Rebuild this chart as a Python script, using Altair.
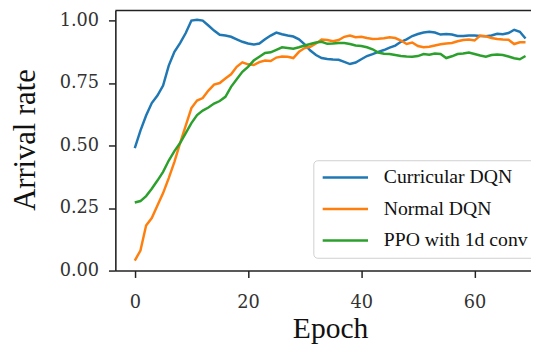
import altair as alt
import pandas as pd

epochs = list(range(70))

curricular_dqn = [
    0.49, 0.56, 0.62, 0.67, 0.70, 0.74, 0.82, 0.875, 0.91, 0.95,
    1.00, 1.003, 1.00, 0.98, 0.96, 0.943, 0.94, 0.935, 0.925, 0.915,
    0.908, 0.904, 0.908, 0.925, 0.94, 0.952, 0.945, 0.94, 0.936, 0.925,
    0.905, 0.88, 0.862, 0.85, 0.846, 0.844, 0.843, 0.835, 0.826, 0.832,
    0.845, 0.858, 0.866, 0.875, 0.882, 0.892, 0.90, 0.915, 0.925, 0.938,
    0.946, 0.952, 0.955, 0.952, 0.944, 0.946, 0.944, 0.938, 0.938, 0.94,
    0.94, 0.938, 0.937, 0.94, 0.947, 0.945, 0.95, 0.963, 0.955, 0.928,
]

normal_dqn = [
    0.04, 0.08, 0.18, 0.21, 0.26, 0.31, 0.37, 0.435, 0.51, 0.58,
    0.65, 0.68, 0.69, 0.72, 0.744, 0.75, 0.768, 0.785, 0.815, 0.833,
    0.825, 0.822, 0.834, 0.84, 0.838, 0.852, 0.856, 0.855, 0.85, 0.875,
    0.89, 0.895, 0.908, 0.924, 0.922, 0.917, 0.922, 0.935, 0.94, 0.933,
    0.935, 0.93, 0.926, 0.927, 0.929, 0.933, 0.93, 0.92, 0.906, 0.912,
    0.898, 0.893, 0.895, 0.90, 0.905, 0.908, 0.91, 0.917, 0.922, 0.924,
    0.92, 0.94, 0.937, 0.93, 0.926, 0.924, 0.923, 0.906, 0.913, 0.913,
]

ppo_1d_conv = [
    0.272, 0.278, 0.298, 0.327, 0.36, 0.395, 0.44, 0.478, 0.51, 0.55,
    0.59, 0.622, 0.64, 0.652, 0.668, 0.678, 0.695, 0.735, 0.765, 0.795,
    0.815, 0.84, 0.855, 0.87, 0.873, 0.883, 0.893, 0.89, 0.887, 0.893,
    0.90, 0.906, 0.912, 0.915, 0.907, 0.908, 0.91, 0.91, 0.906, 0.90,
    0.898, 0.893, 0.885, 0.872, 0.867, 0.866, 0.862, 0.858, 0.856, 0.855,
    0.858, 0.866, 0.863, 0.868, 0.866, 0.85, 0.857, 0.866, 0.868, 0.872,
    0.866, 0.86, 0.855, 0.862, 0.864, 0.862, 0.856, 0.849, 0.845, 0.858,
]

series_names = ["Curricular DQN", "Normal DQN", "PPO with 1d conv"]
series_colors = ["#1f77b4", "#ff7f0e", "#2ca02c"]
x_ticks = [0, 20, 40, 60]
y_ticks = [0.0, 0.25, 0.5, 0.75, 1.0]

rows = []
for name, vals in zip(series_names, [curricular_dqn, normal_dqn, ppo_1d_conv]):
    for e, v in zip(epochs, vals):
        rows.append({"Epoch": e, "rate": v, "series": name})
df = pd.DataFrame(rows)

W, H = 422, 264
TICK_FONT = "DejaVu Serif"
TEXT_FONT = "Liberation Serif"

lines = alt.Chart(df).mark_line(strokeWidth=2.5).encode(
    x=alt.X(
        "Epoch:Q",
        scale=alt.Scale(domain=[-3.43, 69.97], nice=False, zero=False),
        axis=alt.Axis(
            values=x_ticks, grid=False, title="Epoch",
            titleFont=TEXT_FONT, titleFontSize=30, titleFontWeight="normal",
            titleColor="#111", titleX=218, titleY=68,
            titleAlign="center", titleBaseline="alphabetic",
            labelFont=TICK_FONT, labelFontSize=18, labelColor="#333",
            labelPadding=16, tickSize=7, tickWidth=1.5, tickColor="#222",
            domainColor="#222", domainWidth=1.6,
        ),
    ),
    y=alt.Y(
        "rate:Q",
        scale=alt.Scale(domain=[0, 1.04], nice=False, zero=False),
        axis=alt.Axis(
            values=y_ticks, format=".2f", grid=False, title="Arrival rate",
            titleFont=TEXT_FONT, titleFontSize=31, titleFontWeight="normal",
            titleColor="#111", titleX=-82, titleY=131, titleAngle=-90,
            titleAlign="center", titleBaseline="alphabetic",
            labelFont=TICK_FONT, labelFontSize=18, labelColor="#333",
            labelPadding=10, tickSize=7, tickWidth=1.5, tickColor="#222",
            domainColor="#222", domainWidth=1.6,
        ),
    ),
    color=alt.Color(
        "series:N",
        scale=alt.Scale(domain=series_names, range=series_colors),
        legend=alt.Legend(
            title=None, orient="none", legendX=201, legendY=152,
            symbolType="M-1,0H4.75", symbolSize=256, symbolStrokeWidth=2.5,
            labelFont=TEXT_FONT, labelFontSize=20, labelColor="#111",
            labelOffset=44, padding=7.5, rowPadding=12,
            fillColor="rgba(255,255,255,0.85)", strokeColor="#cfcfcf",
            cornerRadius=4, labelLimit=400,
        ),
    ),
)

top_border = alt.Chart(pd.DataFrame({"a": [0]})).mark_rule(
    color="#222", strokeWidth=1.6
).encode(x=alt.value(0), x2=alt.value(W), y=alt.value(0))

chart = alt.layer(lines, top_border).properties(
    width=W, height=H,
    autosize=alt.AutoSizeParams(type="none"),
    padding={"left": 109, "top": 0, "right": 0, "bottom": 74},
).configure_view(strokeWidth=0)

chart.save("out.html", embed_options={"renderer": "svg", "actions": False})
